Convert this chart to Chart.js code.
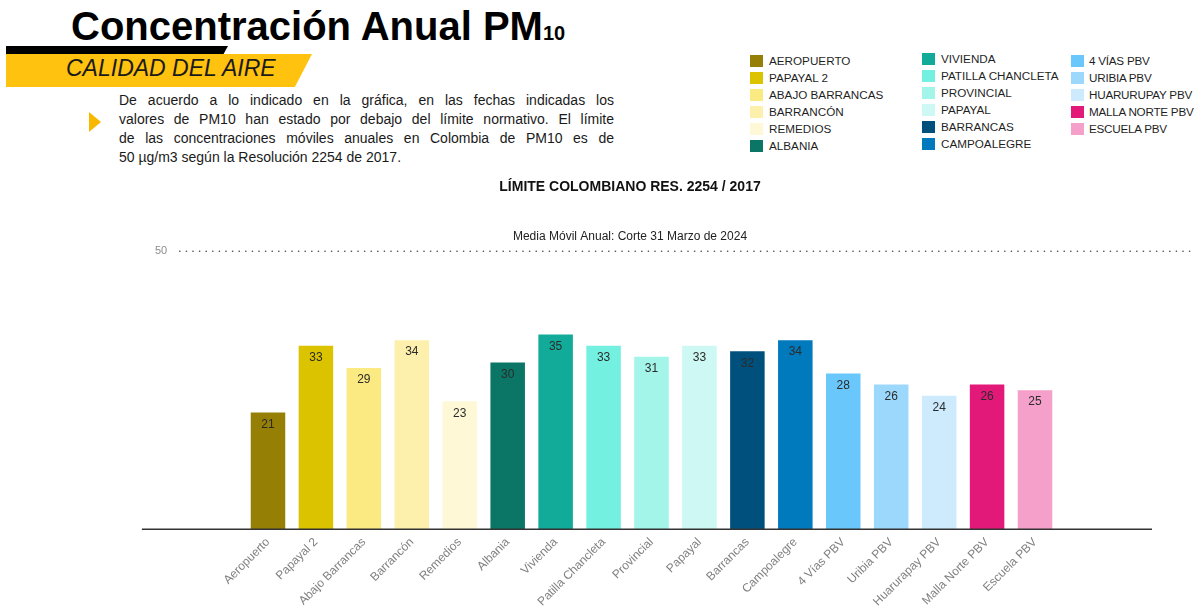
<!DOCTYPE html>
<html lang="es">
<head>
<meta charset="utf-8">
<title>Concentración Anual PM10</title>
<script src="https://cdn.jsdelivr.net/npm/chart.js@4.4.1/dist/chart.umd.min.js"></script>
<style>
  html, body {
    margin: 0;
    padding: 0;
    background: #fff;
  }
  body {
    position: relative;
    width: 1196px;
    height: 606px;
    overflow: hidden;
    font-family: "Liberation Sans", Arial, sans-serif;
    color: #1a1a1a;
  }
  .title {
    position: absolute;
    left: 71px;
    top: 6px;
    margin: 0;
    font-size: 40px;
    line-height: 40px;
    font-weight: bold;
    color: #000;
    white-space: nowrap;
  }
  .title span {
    font-size: 20px;
    line-height: 0;
  }
  .band-black {
    position: absolute;
    left: 6px;
    top: 46px;
    width: 222px;
    height: 8px;
    background: #000;
    clip-path: polygon(0 0, 100% 0, 98% 100%, 0 100%);
  }
  .band-yellow {
    position: absolute;
    left: 6px;
    top: 54px;
    width: 306px;
    height: 33px;
    background: #ffc20e;
    clip-path: polygon(0 0, 100% 0, 94.4% 100%, 0 100%);
  }
  .band-text {
    position: absolute;
    left: 66px;
    top: 57px;
    font-size: 23px;
    line-height: 23px;
    font-style: italic;
    color: #1a1a1a;
    white-space: nowrap;
  }
  .arrow {
    position: absolute;
    left: 89px;
    top: 112px;
    width: 12px;
    height: 20px;
    background: #f9b800;
    clip-path: polygon(0 0, 100% 50%, 0 100%);
  }
  .note {
    position: absolute;
    left: 119px;
    top: 91px;
    width: 495px;
    font-size: 14px;
    line-height: 19px;
    color: #1a1a1a;
  }
  .note div {
    text-align: justify;
    text-align-last: justify;
    white-space: nowrap;
  }
  .note div:last-child {
    text-align-last: left;
  }
  .legend-col {
    position: absolute;
  }
  .legend-item {
    display: flex;
    align-items: center;
    height: 17px;
    font-size: 11.7px;
    color: #1f1f1f;
    white-space: nowrap;
  }
  .legend-item i {
    display: inline-block;
    width: 13px;
    height: 12px;
    margin-right: 6px;
  }
  .legend-col.tight .legend-item {
    letter-spacing: -0.25px;
  }
  .legend-col.tight .legend-item i {
    margin-right: 5px;
  }
  #pm10Chart {
    position: absolute;
    left: 64px;
    top: 175px;
  }
</style>
</head>
<body>
<h1 class="title">Concentración Anual PM<span>10</span></h1>
<div class="band-black"></div>
<div class="band-yellow"></div>
<div class="band-text">CALIDAD DEL AIRE</div>
<div class="arrow"></div>
<div class="note">
  <div>De acuerdo a lo indicado en la gráfica, en las fechas indicadas los</div>
  <div>valores de PM10 han estado por debajo del límite normativo. El límite</div>
  <div>de las concentraciones móviles anuales en Colombia de PM10 es de</div>
  <div>50 µg/m3 según la Resolución 2254 de 2017.</div>
</div>
<div id="legend"></div>
<canvas id="pm10Chart" width="1132" height="440"></canvas>

<script>
// Estaciones y promedio móvil anual de PM10 (µg/m3)
const stations = ['Aeropuerto', 'Papayal 2', 'Abajo Barrancas', 'Barrancón', 'Remedios', 'Albania',
  'Vivienda', 'Patilla Chancleta', 'Provincial', 'Papayal', 'Barrancas', 'Campoalegre',
  '4 Vías PBV', 'Uribia PBV', 'Huarurapay PBV', 'Malla Norte PBV', 'Escuela PBV'];
const legendNames = ['AEROPUERTO', 'PAPAYAL 2', 'ABAJO BARRANCAS', 'BARRANCÓN', 'REMEDIOS', 'ALBANIA',
  'VIVIENDA', 'PATILLA CHANCLETA', 'PROVINCIAL', 'PAPAYAL', 'BARRANCAS', 'CAMPOALEGRE',
  '4 VÍAS PBV', 'URIBIA PBV', 'HUARURUPAY PBV', 'MALLA NORTE PBV', 'ESCUELA PBV'];
const pm10Values = [21, 33, 29, 34, 23, 30, 35, 33, 31, 33, 32, 34, 28, 26, 24, 26, 25];
const barColors = ['#957f04', '#dcc300', '#fbe982', '#fdf0ac', '#fef8d6', '#0b7566',
  '#12ab99', '#74f0e1', '#a3f4e9', '#cdf8f3', '#00507d', '#0079bd',
  '#69c7fc', '#9cd8fc', '#cdebfd', '#e3197a', '#f5a0ca'];
const limitValue = 50;

// x range in bar slots; the axis line and the limit line cover part of it
const X_MIN = -4.255;
const X_MAX = 19.358;
const AXIS_START = -2.63;
const AXIS_END = 18.44;
const LIMIT_LINE_START = -1.84;
const LIMIT_LABEL_AT = -2.23;

const LEGEND_ROWS = 6;
const legendCols = [
  { left: 750, top: 52, tight: false },
  { left: 922, top: 50, tight: false },
  { left: 1071, top: 52, tight: true }
];

const buildLegend = () => {
  const host = document.getElementById('legend');
  legendCols.forEach((col, c) => {
    const el = document.createElement('div');
    el.className = col.tight ? 'legend-col tight' : 'legend-col';
    el.style.left = col.left + 'px';
    el.style.top = col.top + 'px';
    legendNames.slice(c * LEGEND_ROWS, (c + 1) * LEGEND_ROWS).forEach((name, k) => {
      const item = document.createElement('div');
      item.className = 'legend-item';
      const box = document.createElement('i');
      box.style.background = barColors[c * LEGEND_ROWS + k];
      item.appendChild(box);
      item.appendChild(document.createTextNode(name));
      el.appendChild(item);
    });
    host.appendChild(el);
  });
};

// dotted limit line, its "50" tag and the base axis line
const limitLine = {
  id: 'limitLine',
  afterDraw(chart) {
    const { ctx, chartArea, scales: { x, y } } = chart;
    const yLimit = y.getPixelForValue(limitValue);
    const yBase = y.getPixelForValue(0);
    ctx.save();
    ctx.strokeStyle = '#4d4d4d';
    ctx.lineWidth = 1.6;
    ctx.lineCap = 'round';
    ctx.setLineDash([0.1, 6.5]);
    ctx.beginPath();
    ctx.moveTo(x.getPixelForValue(LIMIT_LINE_START), yLimit);
    ctx.lineTo(chartArea.right, yLimit);
    ctx.stroke();

    ctx.setLineDash([]);
    ctx.lineCap = 'butt';
    ctx.fillStyle = '#8c8c8c';
    ctx.font = '11px "Liberation Sans", Arial, sans-serif';
    ctx.textAlign = 'center';
    ctx.textBaseline = 'middle';
    ctx.fillText(String(limitValue), x.getPixelForValue(LIMIT_LABEL_AT), yLimit);

    ctx.strokeStyle = '#333';
    ctx.lineWidth = 1.5;
    ctx.beginPath();
    ctx.moveTo(x.getPixelForValue(AXIS_START), yBase);
    ctx.lineTo(x.getPixelForValue(AXIS_END), yBase);
    ctx.stroke();
    ctx.restore();
  }
};

// value written inside the top of each bar
const valueLabels = {
  id: 'valueLabels',
  afterDatasetsDraw(chart) {
    const { ctx } = chart;
    const meta = chart.getDatasetMeta(0);
    ctx.save();
    ctx.fillStyle = '#2b2b2b';
    ctx.font = '12px "Liberation Sans", Arial, sans-serif';
    ctx.textAlign = 'center';
    ctx.textBaseline = 'middle';
    meta.data.forEach((bar, i) => {
      ctx.fillText(String(pm10Values[i]), bar.x, bar.y + 12);
    });
    ctx.restore();
  }
};

document.addEventListener('DOMContentLoaded', () => {
  buildLegend();

  const ctx = document.getElementById('pm10Chart').getContext('2d');
  new Chart(ctx, {
    type: 'bar',
    data: {
      datasets: [{
        data: pm10Values.map((v, i) => ({ x: i, y: v })),
        backgroundColor: barColors,
        borderWidth: 0
      }]
    },
    options: {
      responsive: false,
      animation: false,
      layout: { padding: 0 },
      plugins: {
        legend: { display: false },
        tooltip: { enabled: false },
        title: {
          display: true,
          text: 'LÍMITE COLOMBIANO RES. 2254 / 2017',
          color: '#111',
          font: { family: '"Liberation Sans", Arial, sans-serif', size: 14, weight: 'bold' },
          padding: { top: 4, bottom: 34 }
        },
        subtitle: {
          display: true,
          text: 'Media Móvil Anual: Corte 31 Marzo de 2024',
          color: '#222',
          font: { family: '"Liberation Sans", Arial, sans-serif', size: 12 },
          padding: { top: 0, bottom: 7 }
        }
      },
      scales: {
        x: {
          type: 'linear',
          min: X_MIN,
          max: X_MAX,
          offset: false,
          grid: { display: false, drawTicks: false, offset: false },
          border: { display: false },
          afterBuildTicks: scale => {
            scale.ticks = stations.map((s, i) => ({ value: i }));
          },
          ticks: {
            autoSkip: false,
            minRotation: 45,
            maxRotation: 45,
            padding: 6,
            color: '#808080',
            font: { family: '"Liberation Sans", Arial, sans-serif', size: 12 },
            callback: value => stations[value]
          }
        },
        y: {
          display: false,
          min: 0,
          max: limitValue
        }
      }
    },
    plugins: [limitLine, valueLabels]
  });
});
</script>
</body>
</html>
